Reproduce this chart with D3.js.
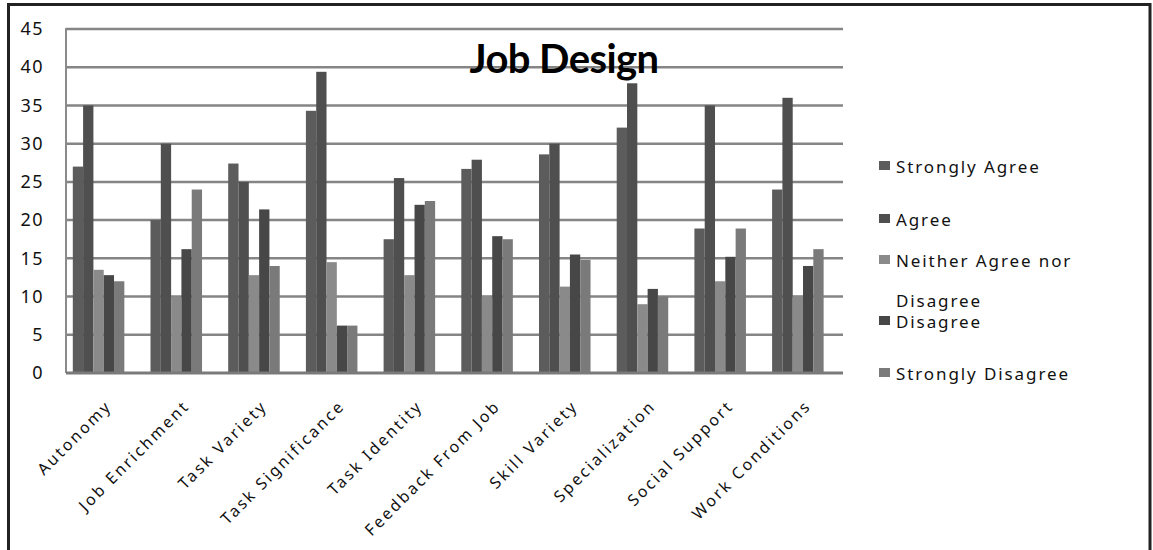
<!DOCTYPE html>
<html><head><meta charset="utf-8">
<script src="https://cdn.jsdelivr.net/npm/d3@7"></script>
<style>body{margin:0;background:#fff}svg{display:block}</style>
</head><body>
<svg id="c" width="1153" height="550"></svg>
<script>
const categories = ["Autonomy","Job Enrichment","Task Variety","Task Significance","Task Identity","Feedback From Job","Skill Variety","Specialization","Social Support","Work Conditions"];
const seriesNames = ["Strongly Agree","Agree","Neither Agree nor Disagree","Disagree","Strongly Disagree"];
const stronglyAgree = [27,20,27.4,34.3,17.5,26.7,28.6,32.1,18.9,24];
const agree = [35,30,25,39.4,25.5,27.9,30,37.9,35,36];
const neither = [13.5,10,12.8,14.5,12.8,10.1,11.3,9,12,10.1];
const disagree = [12.8,16.2,21.4,6.2,22,17.9,15.5,11,15.2,14];
const stronglyDisagree = [12,24,14,6.2,22.5,17.5,14.8,10,18.9,16.2];
const yTicks = [0,5,10,15,20,25,30,35,40,45];
const title = "Job Design";

const seriesValues = [stronglyAgree, agree, neither, disagree, stronglyDisagree];
const colors = ["#5c5c5c","#4f4f4f","#8a8a8a","#474747","#7a7a7a"];

const svg = d3.select("#c");
const L = 66, R = 843, T = 29, B = 373;

// frame
svg.append("rect").attr("x",8.5).attr("y",4.5).attr("width",1141.5).attr("height",600)
  .attr("fill","none").attr("stroke","#222").attr("stroke-width",3);

const y = d3.scaleLinear().domain([0,45]).range([B,T]);
const x0 = d3.scaleBand().domain(categories).range([L,R]).padding(0);
const x1 = d3.scaleBand().domain(seriesNames).range([0,x0.bandwidth()]).paddingInner(0).paddingOuter(1.27).align(0.26);

// gridlines
svg.append("g").selectAll("line").data(yTicks.filter(d=>d>0)).join("line")
  .attr("x1",L).attr("x2",R).attr("y1",d=>y(d)).attr("y2",d=>y(d))
  .attr("stroke","#858585").attr("stroke-width",2.5);
// left axis line
svg.append("line").attr("x1",L).attr("x2",L).attr("y1",T-1).attr("y2",B)
  .attr("stroke","#8a8a8a").attr("stroke-width",2);

// y labels
const yAxis = d3.axisLeft(y).tickValues(yTicks).tickSize(0).tickPadding(22);
const ya = svg.append("g").attr("transform",`translate(${L},0)`).call(yAxis);
ya.select(".domain").remove();
ya.selectAll("text").attr("font-family","'Noto Sans', sans-serif").attr("font-size",18)
  .attr("fill","#111").attr("letter-spacing","1.5px");

// bars
const data = [];
categories.forEach((c,ci)=>seriesNames.forEach((s,si)=>data.push({c,s,si,v:seriesValues[si][ci]})));
svg.append("g").selectAll("rect").data(data).join("rect")
  .attr("x",d=>x0(d.c)+x1(d.s)).attr("width",x1.bandwidth())
  .attr("y",d=>y(d.v)).attr("height",d=>y(0)-y(d.v))
  .attr("fill",d=>colors[d.si]);

// bottom axis line
svg.append("line").attr("x1",L).attr("x2",R).attr("y1",B).attr("y2",B)
  .attr("stroke","#7a7a7a").attr("stroke-width",3);

// x labels
const xAxis = d3.axisBottom(x0).tickSize(0).tickPadding(0);
const xa = svg.append("g").attr("transform",`translate(0,${B})`).call(xAxis);
xa.select(".domain").remove();
xa.selectAll("text")
  .attr("font-family","'Noto Sans', sans-serif").attr("font-size",16)
  .attr("letter-spacing","2.4px").attr("fill","#111")
  .attr("text-anchor","end").attr("dy",null).attr("y",0)
  .attr("transform","translate(8,34) rotate(-45)");

// title
svg.append("text").attr("x",564).attr("y",73).attr("text-anchor","middle")
  .attr("font-family","Lato, sans-serif").attr("font-weight","bold").attr("font-size",40)
  .attr("letter-spacing","-0.6px").attr("fill","#000").text(title);

// legend
const legendBase = [173,226,267,328,380];
const lg = svg.append("g");
seriesNames.forEach((s,i)=>{
  const by = legendBase[i];
  lg.append("rect").attr("x",879).attr("y",by-12).attr("width",11).attr("height",9).attr("fill",colors[i]);
  const t = lg.append("text").attr("x",896).attr("y",by)
    .attr("font-family","'Noto Sans', sans-serif").attr("font-size",17)
    .attr("letter-spacing","1.9px").attr("fill","#111");
  if (s === "Neither Agree nor Disagree") {
    t.append("tspan").attr("x",896).attr("y",by).text("Neither Agree nor");
    t.append("tspan").attr("x",896).attr("y",by+40).text("Disagree");
  } else t.text(s);
});
</script>
</body></html>
